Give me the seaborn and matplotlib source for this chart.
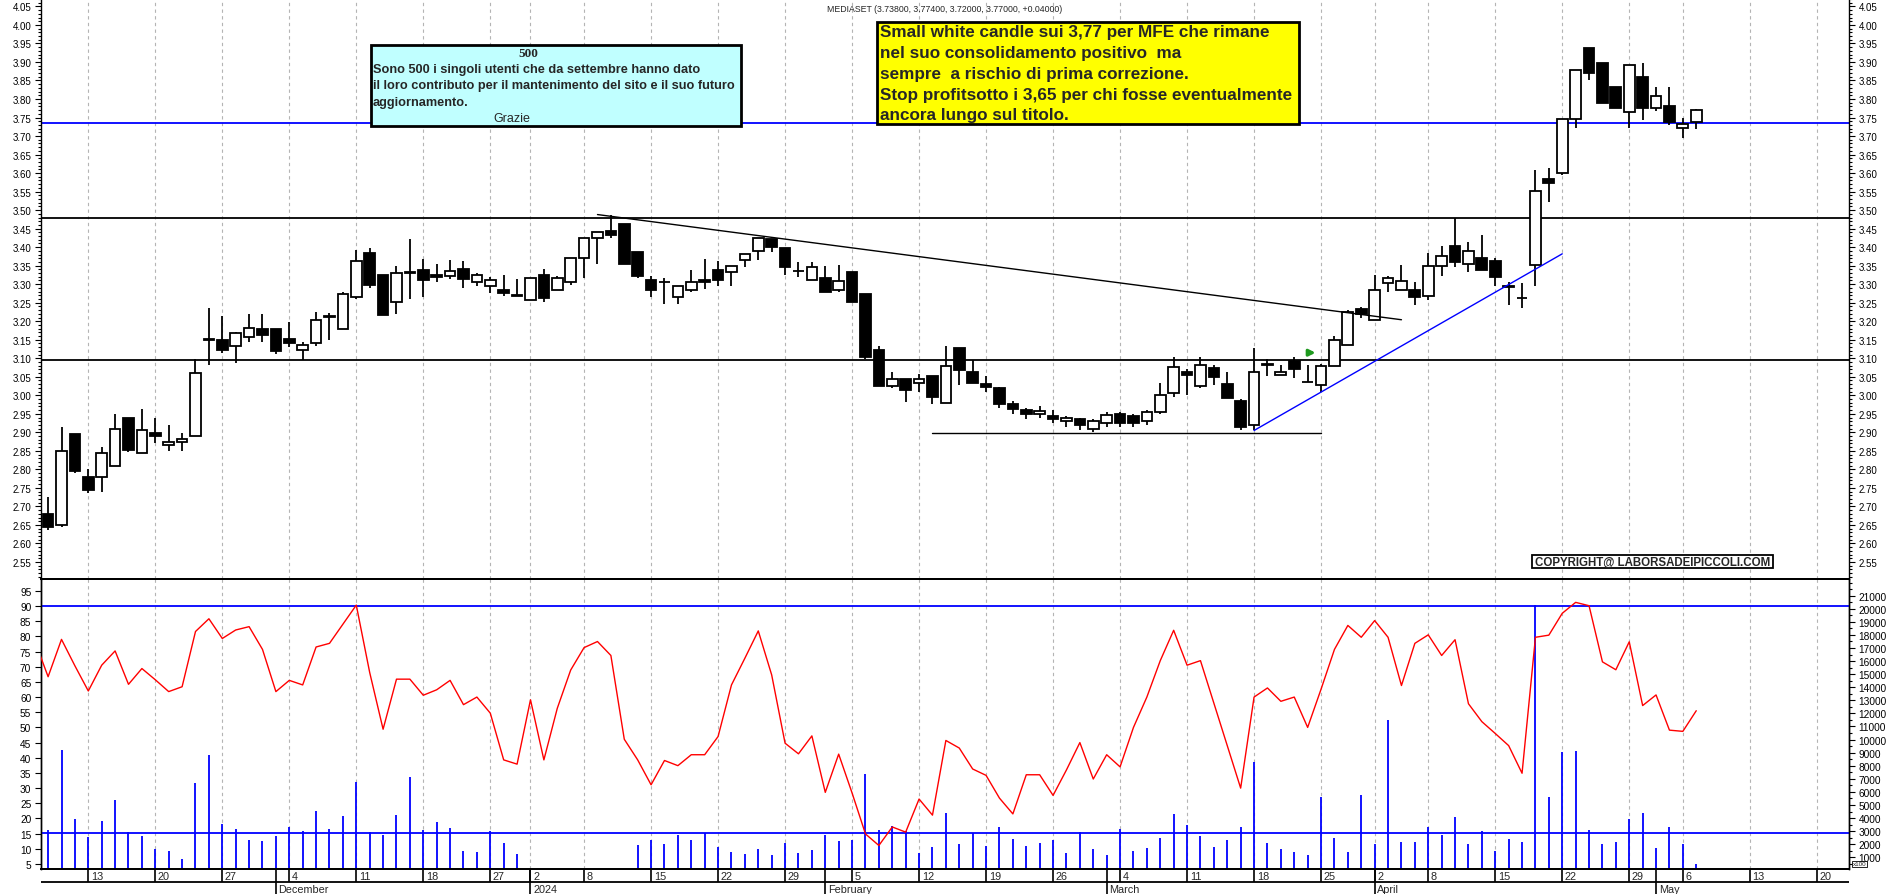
#%% librerie
import numpy as np
import pandas as pd
import matplotlib
matplotlib.use('Agg')
import matplotlib.pyplot as plt
from matplotlib.patches import Rectangle
import seaborn as sns

#%% dati
titolo = 'MEDIASET (3.73800, 3.77400, 3.72000, 3.77000, +0.04000)'
festivi = ['2023-12-25', '2023-12-26', '2024-01-01', '2024-03-29', '2024-04-01', '2024-05-01']
primo_candela = '2023-11-08'
ultima_candela = '2024-05-07'
primo_osc = '2023-11-07'

aperture = [2.68, 2.65, 2.895, 2.78, 2.78, 2.81, 2.94, 2.845, 2.897, 2.865, 2.873, 2.89, 3.151,
            3.148, 3.134, 3.158, 3.18, 3.178, 3.153, 3.122, 3.142, 3.213, 3.18,
            3.265, 3.383, 3.325, 3.253, 3.332, 3.338, 3.325, 3.323, 3.341, 3.305,
            3.294, 3.284, 3.27, 3.256, 3.326, 3.284, 3.305, 3.372, 3.424, 3.443,
            3.462, 3.386, 3.311, 3.306, 3.265, 3.283, 3.311, 3.338, 3.332, 3.364,
            3.389, 3.422, 3.397, 3.336, 3.311, 3.316, 3.283, 3.332, 3.274, 3.123,
            3.025, 3.045, 3.034, 3.051, 2.98, 3.127, 3.063, 3.03, 3.019, 2.977,
            2.96, 2.95, 2.945, 2.93, 2.935, 2.91, 2.925, 2.95, 2.945, 2.93,
            2.955, 3.006, 3.062, 3.025, 3.074, 3.031, 2.985, 2.92, 3.084, 3.055,
            3.092, 3.036, 3.027, 3.079, 3.136, 3.233, 3.204, 3.303, 3.283, 3.283,
            3.267, 3.35, 3.402, 3.355, 3.372, 3.362, 3.294, 3.264, 3.352, 3.584,
            3.60, 3.746, 3.939, 3.896, 3.833, 3.764, 3.86, 3.777, 3.781, 3.723, 3.738]
massimi = [2.725, 2.915, 2.895, 2.80, 2.86, 2.95, 2.94, 2.962, 2.94, 2.92, 2.898, 3.099, 3.235,
           3.215, 3.172, 3.22, 3.219, 3.178, 3.198, 3.145, 3.226, 3.223, 3.28,
           3.393, 3.399, 3.325, 3.35, 3.422, 3.368, 3.354, 3.365, 3.363, 3.33,
           3.32, 3.325, 3.314, 3.318, 3.341, 3.323, 3.372, 3.424, 3.44, 3.487,
           3.462, 3.386, 3.323, 3.318, 3.294, 3.339, 3.368, 3.363, 3.348, 3.381,
           3.424, 3.422, 3.397, 3.361, 3.361, 3.35, 3.352, 3.332, 3.274, 3.133,
           3.063, 3.045, 3.058, 3.051, 3.133, 3.127, 3.094, 3.053, 3.022, 2.985,
           2.965, 2.97, 2.96, 2.945, 2.94, 2.935, 2.955, 2.955, 2.95, 2.96,
           3.034, 3.103, 3.07, 3.103, 3.081, 3.062, 2.99, 3.128, 3.099, 3.083,
           3.103, 3.083, 3.085, 3.159, 3.231, 3.238, 3.325, 3.323, 3.352, 3.305,
           3.384, 3.402, 3.48, 3.415, 3.434, 3.372, 3.305, 3.303, 3.608, 3.613,
           3.747, 3.878, 3.939, 3.896, 3.833, 3.892, 3.898, 3.833, 3.833, 3.748, 3.774]
minimi = [2.635, 2.645, 2.79, 2.735, 2.74, 2.81, 2.848, 2.845, 2.87, 2.85, 2.85, 2.89, 3.083,
          3.115, 3.088, 3.145, 3.144, 3.111, 3.13, 3.095, 3.133, 3.15, 3.18,
          3.26, 3.29, 3.218, 3.22, 3.26, 3.266, 3.307, 3.314, 3.29, 3.296,
          3.276, 3.267, 3.268, 3.256, 3.251, 3.284, 3.299, 3.316, 3.355, 3.426,
          3.354, 3.316, 3.265, 3.247, 3.247, 3.278, 3.287, 3.294, 3.294, 3.346,
          3.366, 3.386, 3.326, 3.319, 3.311, 3.278, 3.278, 3.253, 3.098, 3.025,
          3.02, 2.983, 3.009, 2.977, 2.98, 3.027, 3.033, 3.009, 2.965, 2.95,
          2.935, 2.94, 2.925, 2.915, 2.905, 2.90, 2.915, 2.915, 2.915, 2.92,
          2.95, 2.995, 3.001, 3.02, 3.028, 2.992, 2.905, 2.905, 3.052, 3.055,
          3.046, 3.035, 3.009, 3.079, 3.136, 3.208, 3.204, 3.28, 3.283, 3.245,
          3.256, 3.323, 3.346, 3.334, 3.339, 3.296, 3.245, 3.235, 3.294, 3.523,
          3.595, 3.723, 3.851, 3.788, 3.777, 3.723, 3.744, 3.768, 3.73, 3.694, 3.72]
chiusure = [2.645, 2.85, 2.795, 2.745, 2.845, 2.91, 2.853, 2.905, 2.889, 2.873, 2.883, 3.06, 3.15,
            3.123, 3.167, 3.183, 3.164, 3.12, 3.14, 3.135, 3.203, 3.212, 3.274,
            3.363, 3.299, 3.218, 3.33, 3.331, 3.31, 3.32, 3.335, 3.314, 3.325,
            3.311, 3.275, 3.268, 3.318, 3.262, 3.316, 3.372, 3.424, 3.44, 3.433,
            3.354, 3.323, 3.283, 3.305, 3.294, 3.305, 3.305, 3.312, 3.348, 3.381,
            3.424, 3.40, 3.347, 3.335, 3.346, 3.278, 3.308, 3.253, 3.103, 3.025,
            3.045, 3.013, 3.045, 2.995, 3.08, 3.067, 3.033, 3.022, 2.977, 2.962,
            2.95, 2.958, 2.935, 2.94, 2.92, 2.93, 2.948, 2.925, 2.925, 2.955,
            3.002, 3.076, 3.054, 3.081, 3.049, 2.992, 2.915, 3.062, 3.083, 3.062,
            3.07, 3.035, 3.078, 3.148, 3.224, 3.22, 3.283, 3.317, 3.308, 3.265,
            3.35, 3.377, 3.361, 3.39, 3.339, 3.319, 3.293, 3.263, 3.552, 3.572,
            3.746, 3.878, 3.871, 3.788, 3.777, 3.892, 3.777, 3.808, 3.738, 3.732, 3.77]

# oscillatore (scala sinistra), parte da un giorno prima delle candele
oscillatore = [78.6, 66.7, 79, 70.3, 62, 70.5, 75.2, 64.2, 69.4, 65.7, 61.8, 63.4, 81.6, 85.8,
               79.3, 82.1, 83.2, 75.7, 61.8, 65.5, 64, 76.5, 77.7, 84,
               90.3, 68.1, 49.4, 65.9, 65.9, 60.6, 62.4, 65.5, 57.5, 60,
               54.7, 39.3, 37.9, 59.1, 39.3, 56.3, 68.9, 76.3, 78.3, 73.7,
               46.1, 39.3, 31.1, 39.1, 37.4, 41, 41, 47, 64, 72.8,
               81.8, 67.3, 44.8, 41.3, 47.2, 28.6, 41.2, 28.4, 14.9, 11.1,
               17.2, 15.5, 26.4, 21.1, 45.7, 43.2, 36.3, 34.2, 26.7, 21.5,
               34.4, 34.4, 27.6, 36, 45, 33, 41, 37, 50, 60,
               72, 82, 70.5, 72, 58, 44, 30, 60, 63, 58.6,
               60, 50, 62.6, 75.7, 83.6, 79.7, 85.2, 79.7, 63.8, 77.7,
               80.5, 73.7, 78.9, 57.8, 51.9, 48, 44, 34.9, 79.7, 80.4,
               87.6, 91.2, 90.1, 71.6, 69, 78.2, 57.2, 60.7, 49.1, 48.7, 55.5]

# volumi (x100, scala destra), manca il dato dal 2 al 12 gennaio
nan = np.nan
volumi = [3110, 9203, 3928, 2529, 3752, 5404, 2911, 2628, 1635, 1482, 870, 6680, 8844,
          3546, 3164, 2349, 2247, 2655, 3339, 3033, 4563, 3164, 4134,
          6783, 2960, 2731, 4257, 7163, 3110, 3722, 3263, 1482, 1428,
          3033, 2093, 1252, nan, nan, nan, nan, nan, nan, nan,
          nan, 1940, 2323, 2017, 2706, 2323, 2835, 1812, 1428, 1252,
          1635, 1176, 2093, 1329, 1558, 2706, 2247, 2349, 7368, 3084,
          3370, 2988, 1329, 1812, 4387, 2017, 2835, 1889, 3293, 2400,
          1889, 2093, 2300, 1300, 2900, 1600, 1200, 3200, 1500, 1700,
          2500, 4300, 3500, 2600, 1800, 2300, 3300, 8300, 2100, 1600,
          1400, 1200, 5600, 2500, 1400, 5800, 2000, 11500, 2200, 2200,
          3300, 2700, 4100, 2000, 3000, 1500, 2400, 2195, 20290, 5587,
          9073, 9150, 3110, 2017, 2195, 3928, 4387, 1711, 3339, 2017, 488]

# linee disegnate sul grafico
livelli_neri = [3.48, 3.094]
livello_blu = 3.734
livelli_osc = [90, 15.06]
trend_ribasso_date = ['2024-01-09', '2024-04-04']
trend_ribasso_prezzi = [3.488, 3.204]
supporto_date = ['2024-02-13', '2024-03-25']
supporto_prezzi = [2.899, 2.899]
trend_rialzo_date = ['2024-03-18', '2024-04-22']
trend_rialzo_prezzi = [2.905, 3.382]
freccia_data = '2024-03-22'
freccia_prezzo = 3.115

nomi_mesi = {12: 'December', 1: '2024', 2: 'February', 3: 'March', 4: 'April', 5: 'May'}

testo_azzurro = ['Sono 500 i singoli utenti che da settembre hanno dato',
                 'il loro contributo per il mantenimento del sito e il suo futuro',
                 'aggiornamento.']
testo_giallo = ['Small white candle sui 3,77 per MFE che rimane',
                'nel suo consolidamento positivo  ma',
                'sempre  a rischio di prima correzione.',
                'Stop profitsotto i 3,65 per chi fosse eventualmente',
                'ancora lungo sul titolo.']

#%% giorni di borsa -> posizione sull'asse x
giorni = pd.bdate_range('2023-11-07', '2024-05-31', freq='C', holidays=festivi)
pos = pd.Series(np.arange(len(giorni)), index=giorni)
x_lim = (0.47, 135.4)

giorni_candele = giorni[(giorni >= primo_candela) & (giorni <= ultima_candela)]
giorni_osc = giorni[(giorni >= primo_osc) & (giorni <= ultima_candela)]
x_c = pos[giorni_candele].values
x_o = pos[giorni_osc].values

o = np.array(aperture); h = np.array(massimi); l = np.array(minimi); c = np.array(chiusure)
vol = np.array(volumi, dtype=float)

# primo giorno di ogni settimana e di ogni mese (solo quelli dentro l'asse)
df_g = pd.DataFrame({'data': giorni, 'x': pos.values})
iso = df_g.data.dt.isocalendar()
settimane = df_g.groupby([iso.year, iso.week]).first()
settimane = settimane[(settimane.x > x_lim[0]) & (settimane.x < x_lim[1])]
mesi = df_g.groupby([df_g.data.dt.year, df_g.data.dt.month]).first()
mesi = mesi[(mesi.x > x_lim[0]) & (mesi.x < x_lim[1])]

#%% stile
sns.set_style('white')
plt.rcParams['font.family'] = ['Liberation Sans', 'DejaVu Sans']

fig = plt.figure(figsize=(18.9, 8.95), dpi=100)
fx = lambda px: px / 1890
fy = lambda py: 1 - py / 895
L, R = fx(41), fx(1849)
ax_p = fig.add_axes([L, fy(580), R - L, 580 / 895])
ax_o = fig.add_axes([L, fy(870), R - L, 290 / 895])
ax_v = ax_o.twinx()
ax_d = fig.add_axes([L, 0, R - L, 25 / 895])

griglia = dict(color='#b4b4b4', ls=(0, (3, 3)), lw=0.8, zorder=0)
for xs in settimane.x:
    ax_p.axvline(xs, **griglia)
    ax_v.axvline(xs, **griglia)

#%% pannello prezzi (candele)
su = c >= o
ax_p.vlines(x_c, l, h, color='black', lw=1.3, zorder=2)
ax_p.bar(x_c[su], c[su] - o[su], bottom=o[su], width=0.8, color='white', edgecolor='black', lw=1.3, zorder=3)
ax_p.bar(x_c[~su], o[~su] - c[~su], bottom=c[~su], width=0.8, color='black', edgecolor='black', lw=1.3, zorder=3)

for liv in livelli_neri:
    ax_p.axhline(liv, color='black', lw=1.3, zorder=1)
ax_p.axhline(livello_blu, color='#0000ff', lw=1.3, zorder=1)
ax_p.plot(pos[pd.to_datetime(trend_ribasso_date)].values, trend_ribasso_prezzi, color='black', lw=1.0, zorder=4)
ax_p.plot(pos[pd.to_datetime(supporto_date)].values, supporto_prezzi, color='black', lw=1.0, zorder=4)
ax_p.plot(pos[pd.to_datetime(trend_rialzo_date)].values, trend_rialzo_prezzi, color='#0000ff', lw=1.0, zorder=4)
xf = pos[pd.Timestamp(freccia_data)]
ax_p.annotate('', xy=(xf + 0.8, freccia_prezzo), xytext=(xf - 0.15, freccia_prezzo),
              arrowprops=dict(arrowstyle='-|>', color='#1f9a1f', lw=2.2, mutation_scale=9))

ax_p.set_xlim(x_lim)
ax_p.set_ylim(2.504, 4.069)
ax_p.set_yticks(np.arange(2.55, 4.06, 0.05))
ax_p.set_yticks(np.arange(2.51, 4.07, 0.01), minor=True)
ax_p.yaxis.set_major_formatter(matplotlib.ticker.FormatStrFormatter('%.2f'))
ax_p.tick_params(axis='y', which='both', left=True, right=True, labelleft=True, labelright=True,
                 direction='out', labelsize=7, width=0.8, colors='black', pad=3)
ax_p.tick_params(axis='y', which='major', length=4)
ax_p.tick_params(axis='y', which='minor', length=2)
ax_p.tick_params(axis='x', bottom=False, labelbottom=False)
ax_p.spines['top'].set_visible(False)
for s in ['left', 'right', 'bottom']:
    ax_p.spines[s].set_color('black')
    ax_p.spines[s].set_linewidth(1.0)
ax_p.spines['bottom'].set_linewidth(1.3)

#%% pannello oscillatore + volumi
ok = ~np.isnan(vol)
ax_v.vlines(x_c[ok], 0, vol[ok], color='#0000ff', lw=1.3, zorder=2)
sns.lineplot(x=x_o, y=oscillatore, ax=ax_o, color='red', lw=1.0, zorder=3)
for liv in livelli_osc:
    ax_o.axhline(liv, color='#0000ff', lw=1.3, zorder=2)
ax_o.set_zorder(ax_v.get_zorder() + 1)
ax_o.patch.set_visible(False)

ax_o.set_xlim(x_lim)
ax_o.set_ylim(3.35, 98.9)
ax_o.set_yticks(np.arange(5, 96, 5))
ax_o.tick_params(axis='y', which='both', left=True, right=False, labelleft=True, direction='out',
                 labelsize=7.3, length=4, width=0.8, colors='black', pad=3)
ax_o.tick_params(axis='x', bottom=False, labelbottom=False)
ax_v.set_ylim(105, 22276)
ax_v.set_yticks(np.arange(1000, 21001, 1000))
ax_v.set_yticks(np.arange(500, 22001, 500), minor=True)
ax_v.tick_params(axis='y', which='both', right=True, labelright=True, direction='out',
                 labelsize=7.3, width=0.8, colors='black', pad=3)
ax_v.tick_params(axis='y', which='major', length=4)
ax_v.tick_params(axis='y', which='minor', length=2)
for a in (ax_o, ax_v):
    for s in a.spines.values():
        s.set_color('black')
        s.set_linewidth(1.0)
    a.spines['bottom'].set_linewidth(1.3)
    a.spines['top'].set_linewidth(1.3)

#%% asse delle date
ax_d.set_xlim(x_lim)
ax_d.set_ylim(0, 1)
ax_d.axis('off')
ax_d.axhline(0.48, color='black', lw=1.3)
for _, r in settimane.iterrows():
    ax_d.vlines(r.x, 0.48, 1, color='black', lw=1.2)
    ax_d.text(r.x + 0.2, 0.73, str(r.data.day), va='center', ha='left', size=7.8)
for _, r in mesi.iterrows():
    ax_d.vlines(r.x, 0, 1, color='black', lw=1.2)
    ax_d.text(r.x + 0.2, 0.2, nomi_mesi[r.data.month], va='center', ha='left', size=7.8)

#%% testi e riquadri
fig.text(fx(945), fy(10), titolo, ha='center', va='center', size=6.3)

fig.add_artist(Rectangle((fx(371), fy(127)), fx(370), 81 / 895, transform=fig.transFigure,
                         facecolor='#c0ffff', edgecolor='black', lw=2, zorder=5))
fig.text(fx(528), fy(54), '500', ha='center', va='center', size=9.5, weight='bold',
         family='Liberation Serif', zorder=6)
for i, riga in enumerate(testo_azzurro):
    fig.text(fx(373), fy(70 + 16.5 * i), riga, ha='left', va='center', size=9.2, weight='bold', zorder=6)
fig.text(fx(512), fy(119), 'Grazie', ha='center', va='center', size=9, zorder=6)

fig.add_artist(Rectangle((fx(877), fy(125)), fx(422), 102 / 895, transform=fig.transFigure,
                         facecolor='#ffff00', edgecolor='black', lw=2, zorder=5))
for i, riga in enumerate(testo_giallo):
    fig.text(fx(880), fy(33 + 20.7 * i), riga, ha='left', va='center', size=12.3, weight='bold', zorder=6)

fig.add_artist(Rectangle((fx(1532), fy(569)), fx(241), 13 / 895, transform=fig.transFigure,
                         facecolor='white', edgecolor='black', lw=1.3, zorder=5))
fig.text(fx(1652.5), fy(562.5), 'COPYRIGHT@ LABORSADEIPICCOLI.COM', ha='center', va='center',
         size=8.3, weight='bold', zorder=6)

fig.text(fx(1860), fy(865), 'x100', ha='center', va='center', size=4.5,
         bbox=dict(facecolor='white', edgecolor='black', lw=0.6, pad=0.5), zorder=6)

fig.savefig('out.png', dpi=100)
